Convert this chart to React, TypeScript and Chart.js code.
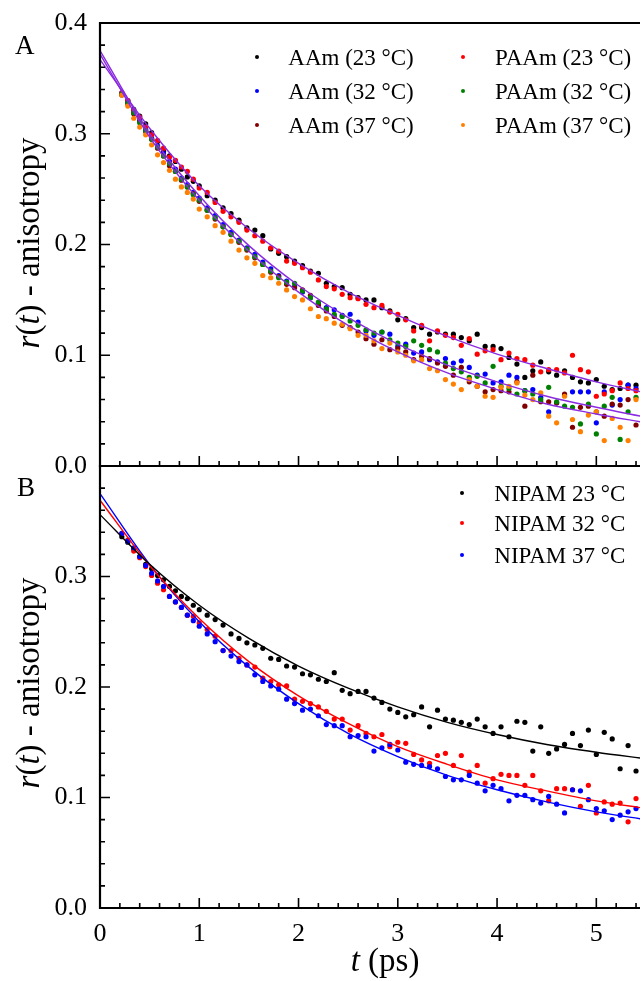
import React, { useEffect, useRef } from 'react';
import { Chart, registerables } from 'chart.js';

Chart.register(...registerables);

const FONT = '"Liberation Serif", "Times New Roman", serif';

// time axis (ps)
const T = [0.22,0.28,0.34,0.40,0.46,0.52,0.58,0.64,0.70,0.76,0.82,0.88,0.94,1.00,
  1.08,1.16,1.24,1.32,1.40,1.48,1.56,1.64,1.72,1.80,
  1.88,1.96,2.04,2.12,2.20,2.28,2.36,2.44,2.52,2.60,
  2.68,2.76,2.84,2.92,3.00,3.08,3.16,3.24,3.32,3.40,
  3.48,3.56,3.64,3.72,3.80,3.88,3.96,4.04,4.12,4.20,
  4.28,4.36,4.44,4.52,4.60,4.68,4.76,4.84,4.92,5.00,
  5.08,5.16,5.24,5.32,5.40];

// Panel A
const aam23 = [0.336,0.330,0.322,0.316,0.309,0.301,0.293,0.284,0.280,0.275,0.268,0.261,0.257,0.253,
  0.244,0.240,0.233,0.228,0.222,0.215,0.213,0.208,0.196,0.192,
  0.189,0.185,0.181,0.176,0.174,0.165,0.162,0.161,0.155,0.152,
  0.150,0.150,0.143,0.140,0.132,0.133,0.125,0.125,0.119,0.121,
  0.119,0.119,0.116,0.113,0.119,0.108,0.108,0.106,0.098,0.092,
  0.080,0.086,0.094,0.085,0.082,0.086,0.080,0.076,0.075,0.078,
  0.072,0.069,0.070,0.073,0.073];
const aam32 = [0.337,0.329,0.320,0.312,0.304,0.296,0.289,0.282,0.275,0.268,0.260,0.254,0.247,0.242,
  0.233,0.226,0.218,0.211,0.204,0.197,0.191,0.184,0.178,0.172,
  0.167,0.162,0.157,0.152,0.147,0.143,0.141,0.136,0.137,0.130,
  0.122,0.118,0.121,0.119,0.108,0.110,0.102,0.103,0.096,0.094,
  0.097,0.093,0.095,0.089,0.082,0.083,0.075,0.076,0.082,0.080,
  0.068,0.069,0.062,0.049,0.057,0.064,0.067,0.067,0.067,0.039,
  0.067,0.055,0.060,0.073,0.070];
const aam37 = [0.335,0.327,0.318,0.311,0.302,0.295,0.287,0.280,0.271,0.266,0.258,0.252,0.246,0.239,
  0.231,0.223,0.216,0.209,0.202,0.195,0.188,0.182,0.175,0.171,
  0.164,0.161,0.159,0.154,0.145,0.140,0.135,0.127,0.125,0.121,
  0.115,0.110,0.114,0.105,0.106,0.103,0.096,0.099,0.097,0.093,
  0.090,0.082,0.089,0.076,0.072,0.067,0.069,0.068,0.067,0.076,
  0.054,0.082,0.058,0.058,0.057,0.065,0.035,0.053,0.054,0.049,
  0.045,0.056,0.055,0.060,0.037];
const paam23 = [0.337,0.330,0.321,0.315,0.306,0.299,0.294,0.287,0.279,0.276,0.270,0.266,0.259,0.251,
  0.247,0.238,0.230,0.225,0.220,0.213,0.208,0.203,0.197,0.194,
  0.185,0.183,0.179,0.175,0.168,0.162,0.160,0.155,0.152,0.151,
  0.146,0.143,0.145,0.139,0.137,0.132,0.122,0.127,0.113,0.122,
  0.118,0.116,0.109,0.115,0.101,0.104,0.105,0.096,0.102,0.097,
  0.096,0.091,0.085,0.087,0.087,0.084,0.100,0.087,0.085,0.063,
  0.065,0.068,0.075,0.070,0.068];
const paam32 = [0.336,0.328,0.319,0.310,0.303,0.295,0.288,0.280,0.273,0.266,0.259,0.252,0.245,0.240,
  0.231,0.224,0.216,0.209,0.203,0.196,0.189,0.182,0.176,0.170,
  0.166,0.165,0.158,0.152,0.148,0.142,0.137,0.135,0.131,0.127,
  0.123,0.120,0.121,0.114,0.111,0.108,0.113,0.109,0.105,0.103,
  0.093,0.088,0.085,0.080,0.081,0.075,0.090,0.072,0.070,0.065,
  0.068,0.065,0.060,0.071,0.058,0.054,0.053,0.038,0.056,0.029,
  0.054,0.062,0.024,0.049,0.062];
const paam37 = [0.335,0.325,0.314,0.306,0.299,0.290,0.281,0.274,0.267,0.259,0.252,0.247,0.241,0.232,
  0.225,0.217,0.211,0.203,0.195,0.188,0.183,0.172,0.170,0.165,
  0.159,0.153,0.150,0.142,0.135,0.133,0.129,0.128,0.124,0.118,
  0.118,0.113,0.106,0.111,0.103,0.100,0.095,0.096,0.088,0.086,
  0.078,0.074,0.069,0.078,0.072,0.063,0.062,0.071,0.072,0.075,
  0.064,0.060,0.066,0.045,0.039,0.063,0.042,0.031,0.046,0.049,
  0.023,0.043,0.035,0.023,0.060];

// Panel B
const nipam23 = [0.336,0.331,0.325,0.318,0.311,0.307,0.301,0.297,0.291,0.287,0.282,0.280,0.274,0.270,
  0.265,0.261,0.256,0.248,0.244,0.240,0.238,0.235,0.226,0.225,
  0.219,0.218,0.212,0.211,0.207,0.205,0.213,0.197,0.194,0.196,
  0.196,0.190,0.186,0.180,0.177,0.173,0.175,0.182,0.164,0.179,
  0.171,0.170,0.168,0.166,0.171,0.164,0.158,0.164,0.155,0.169,
  0.168,0.142,0.164,0.140,0.144,0.148,0.158,0.147,0.161,0.139,
  0.159,0.153,0.126,0.147,0.124];
const nipam32 = [0.339,0.333,0.323,0.317,0.309,0.301,0.294,0.288,0.282,0.277,0.272,0.265,0.264,0.258,
  0.252,0.246,0.233,0.233,0.226,0.220,0.218,0.208,0.205,0.202,
  0.201,0.189,0.187,0.185,0.182,0.178,0.171,0.171,0.161,0.165,
  0.158,0.155,0.157,0.146,0.150,0.149,0.139,0.134,0.131,0.138,
  0.140,0.129,0.138,0.123,0.129,0.113,0.117,0.121,0.120,0.120,
  0.111,0.120,0.106,0.097,0.108,0.108,0.107,0.092,0.111,0.086,
  0.096,0.094,0.095,0.078,0.099];
const nipam37 = [0.339,0.332,0.326,0.318,0.310,0.303,0.296,0.291,0.282,0.277,0.272,0.265,0.260,0.255,
  0.248,0.241,0.233,0.228,0.223,0.220,0.211,0.205,0.201,0.198,
  0.189,0.185,0.179,0.180,0.174,0.166,0.165,0.165,0.155,0.156,
  0.155,0.142,0.145,0.148,0.143,0.132,0.130,0.129,0.128,0.126,
  0.119,0.116,0.116,0.120,0.113,0.106,0.111,0.108,0.097,0.102,
  0.102,0.098,0.095,0.101,0.094,0.086,0.107,0.106,0.098,0.090,
  0.088,0.080,0.084,0.087,0.090];

// fitted curves, read at these times
const fitT = [0, 0.5, 1, 1.5, 2, 2.5, 3, 3.5, 4, 4.5, 5, 5.5];
const fitA23 = [0.367, 0.305, 0.253, 0.214, 0.183, 0.157, 0.136, 0.117, 0.101, 0.088, 0.076, 0.066];
const fitAlow1 = [0.375, 0.300, 0.244, 0.199, 0.163, 0.134, 0.110, 0.091, 0.076, 0.063, 0.053, 0.044];
const fitAlow2 = [0.372, 0.297, 0.240, 0.194, 0.157, 0.127, 0.103, 0.084, 0.069, 0.056, 0.047, 0.039];
const fitN23 = [0.356, 0.311, 0.274, 0.244, 0.219, 0.199, 0.182, 0.168, 0.157, 0.148, 0.141, 0.135];
const fitN32 = [0.369, 0.310, 0.262, 0.223, 0.192, 0.167, 0.146, 0.130, 0.116, 0.106, 0.097, 0.090];
const fitN37 = [0.375, 0.311, 0.259, 0.218, 0.185, 0.158, 0.137, 0.120, 0.107, 0.096, 0.087, 0.080];

const legendA = [
  { label: 'AAm (23 °C)', color: '#000000' },
  { label: 'AAm (32 °C)', color: '#0000ff' },
  { label: 'AAm (37 °C)', color: '#800000' },
  { label: 'PAAm (23 °C)', color: '#ff0000' },
  { label: 'PAAm (32 °C)', color: '#008000' },
  { label: 'PAAm (37 °C)', color: '#ff8000' },
];
const legendB = [
  { label: 'NIPAM 23 °C', color: '#000000' },
  { label: 'NIPAM 32 °C', color: '#ff0000' },
  { label: 'NIPAM 37 °C', color: '#0000ff' },
];
const FIT_A = '#8a2be2';

const X_MIN = 0, X_MAX = 5.44, Y_MIN = 0, Y_MAX = 0.4;

const pts = (vals: number[]) => T.map((t, i) => ({ x: t, y: vals[i] }));
const fitPts = (vals: number[]) => fitT.map((t, i) => ({ x: t, y: vals[i] }));

const scatterDs = (vals: number[], color: string, order: number) => ({
  data: pts(vals), backgroundColor: color, borderColor: color,
  pointRadius: 2.6, pointBorderWidth: 0, showLine: false, order,
});
const lineDs = (vals: number[], color: string) => ({
  data: fitPts(vals), borderColor: color, backgroundColor: color, borderWidth: 1.4,
  pointRadius: 0, showLine: true, cubicInterpolationMode: 'monotone', fill: false, order: 0,
});

const framePlugin = {
  id: 'frame',
  afterDatasetsDraw(chart: any, _a: any, opts: any) {
    const { ctx, chartArea: ca } = chart;
    const xs = chart.scales.x, ys = chart.scales.y;
    ctx.save();
    ctx.strokeStyle = '#000';
    // ticks (inward)
    ctx.lineWidth = 1.6;
    ctx.beginPath();
    const nx = Math.floor((X_MAX - X_MIN) / 0.2 + 1e-6);
    for (let i = 0; i <= nx; i++) {
      const px = xs.getPixelForValue(X_MIN + i * 0.2);
      const len = i % 5 === 0 ? 10 : 5;
      ctx.moveTo(px, ca.bottom);
      ctx.lineTo(px, ca.bottom - len);
    }
    const ny = Math.round((Y_MAX - Y_MIN) / 0.02);
    for (let i = 0; i <= ny; i++) {
      const py = ys.getPixelForValue(Y_MIN + i * 0.02);
      const len = i % 5 === 0 ? 10 : 5;
      ctx.moveTo(ca.left, py);
      ctx.lineTo(ca.left + len, py);
    }
    ctx.stroke();
    // axis lines
    ctx.lineWidth = 2.2;
    ctx.beginPath();
    ctx.moveTo(ca.left, ca.top - 1);
    ctx.lineTo(ca.left, ca.bottom + 1);
    ctx.moveTo(ca.left - 1, ca.bottom);
    ctx.lineTo(ca.right, ca.bottom);
    if (opts.top) {
      ctx.moveTo(ca.left - 1, ca.top);
      ctx.lineTo(ca.right, ca.top);
    }
    ctx.stroke();
    ctx.restore();
  },
};

function makeOptions(panel: 'A' | 'B', xAxisHeight: number, topPad: number) {
  return {
    animation: false,
    responsive: false,
    events: [],
    layout: { padding: { top: topPad, left: 0, right: 0, bottom: 0 } },
    plugins: {
      legend: { display: false },
      tooltip: { enabled: false },
      frame: { top: panel === 'A' },
    },
    scales: {
      x: {
        type: 'linear', min: X_MIN, max: X_MAX,
        grid: { display: false, drawTicks: false }, border: { display: false },
        ticks: {
          display: panel === 'B', stepSize: 1, includeBounds: false, autoSkip: false,
          maxRotation: 0, padding: 11, color: '#000',
          font: { family: FONT, size: 26 },
          callback: (v: number) => String(v),
        },
        afterFit: (s: any) => {
          s.height = xAxisHeight;
          s.paddingLeft = 0; s.paddingRight = 0; s.paddingTop = 0; s.paddingBottom = 0;
        },
      },
      y: {
        type: 'linear', min: Y_MIN, max: Y_MAX,
        grid: { display: false, drawTicks: false }, border: { display: false },
        ticks: {
          stepSize: 0.1, includeBounds: false, padding: 13, color: '#000',
          font: { family: FONT, size: 26 },
          callback: (v: number) => (panel === 'B' && v > 0.35 ? '' : Number(v).toFixed(1)),
        },
        afterFit: (s: any) => {
          s.width = 100;
          s.paddingLeft = 0; s.paddingRight = 0; s.paddingTop = 0; s.paddingBottom = 0;
        },
      },
    },
  };
}

function PanelChart({ panel, top, height, xAxisHeight, topPad }: any) {
  const ref = useRef<HTMLCanvasElement>(null);
  useEffect(() => {
    if (!ref.current) return;
    const datasets: any[] = panel === 'A'
      ? [
          lineDs(fitA23, FIT_A), lineDs(fitAlow1, FIT_A), lineDs(fitAlow2, FIT_A),
          scatterDs(aam23, '#000000', 6), scatterDs(aam32, '#0000ff', 5), scatterDs(aam37, '#800000', 4),
          scatterDs(paam23, '#ff0000', 3), scatterDs(paam32, '#008000', 2), scatterDs(paam37, '#ff8000', 1),
        ]
      : [
          lineDs(fitN23, '#000000'), lineDs(fitN32, '#ff0000'), lineDs(fitN37, '#0000ff'),
          scatterDs(nipam23, '#000000', 3), scatterDs(nipam32, '#ff0000', 2), scatterDs(nipam37, '#0000ff', 1),
        ];
    const chart = new Chart(ref.current, {
      type: 'scatter',
      data: { datasets },
      options: makeOptions(panel, xAxisHeight, topPad) as any,
      plugins: [framePlugin],
    });
    return () => chart.destroy();
  }, []);
  return (
    <canvas ref={ref} width={644} height={height}
      style={{ position: 'absolute', left: 0, top, width: 644, height }} />
  );
}

const txt = (extra: any) => ({ position: 'absolute', whiteSpace: 'nowrap', lineHeight: 1, ...extra });

function Legend({ items, dotX, textX, rows }: any) {
  return (
    <>
      {items.map((it: any, i: number) => (
        <React.Fragment key={it.label}>
          <div style={{ position: 'absolute', left: dotX - 2.2, top: rows[i] - 2.2, width: 4.4, height: 4.4,
            borderRadius: '50%', background: it.color }} />
          <div style={txt({ left: textX, top: rows[i] + 8.3 - 0.8375 * 23, fontSize: 23 })}>{it.label}</div>
        </React.Fragment>
      ))}
    </>
  );
}

function YTitle({ cy }: { cy: number }) {
  return (
    <div style={txt({ left: 28, top: cy, fontSize: 33, transform: 'translate(-50%, -50%) rotate(-90deg)' })}>
      <i>r</i>(<i>t</i>) - anisotropy
    </div>
  );
}

export default function App() {
  const rowsA = [56.7, 90.7, 125];
  const rowsB = [493.3, 523.3, 555];
  return (
    <div style={{ position: 'absolute', left: 0, top: 0, width: 644, height: 981, overflow: 'hidden',
      fontFamily: FONT, color: '#000', background: '#fff' }}>
      <PanelChart panel="A" top={0} height={500} xAxisHeight={34} topPad={23} />
      <PanelChart panel="B" top={440} height={541} xAxisHeight={73} topPad={26} />
      <div style={txt({ left: 15, top: 55 - 0.8375 * 27, fontSize: 27 })}>A</div>
      <div style={txt({ left: 17, top: 497 - 0.8375 * 27, fontSize: 27 })}>B</div>
      <Legend items={legendA.slice(0, 3)} dotX={256.7} textX={288.3} rows={rowsA} />
      <Legend items={legendA.slice(3)} dotX={463.3} textX={495} rows={rowsA} />
      <Legend items={legendB} dotX={461.7} textX={494.3} rows={rowsB} />
      <YTitle cy={243} />
      <YTitle cy={683} />
      <div style={txt({ left: 385, top: 971.7 - 0.8375 * 33, fontSize: 33, transform: 'translateX(-50%)' })}>
        <i>t</i> (ps)
      </div>
    </div>
  );
}
